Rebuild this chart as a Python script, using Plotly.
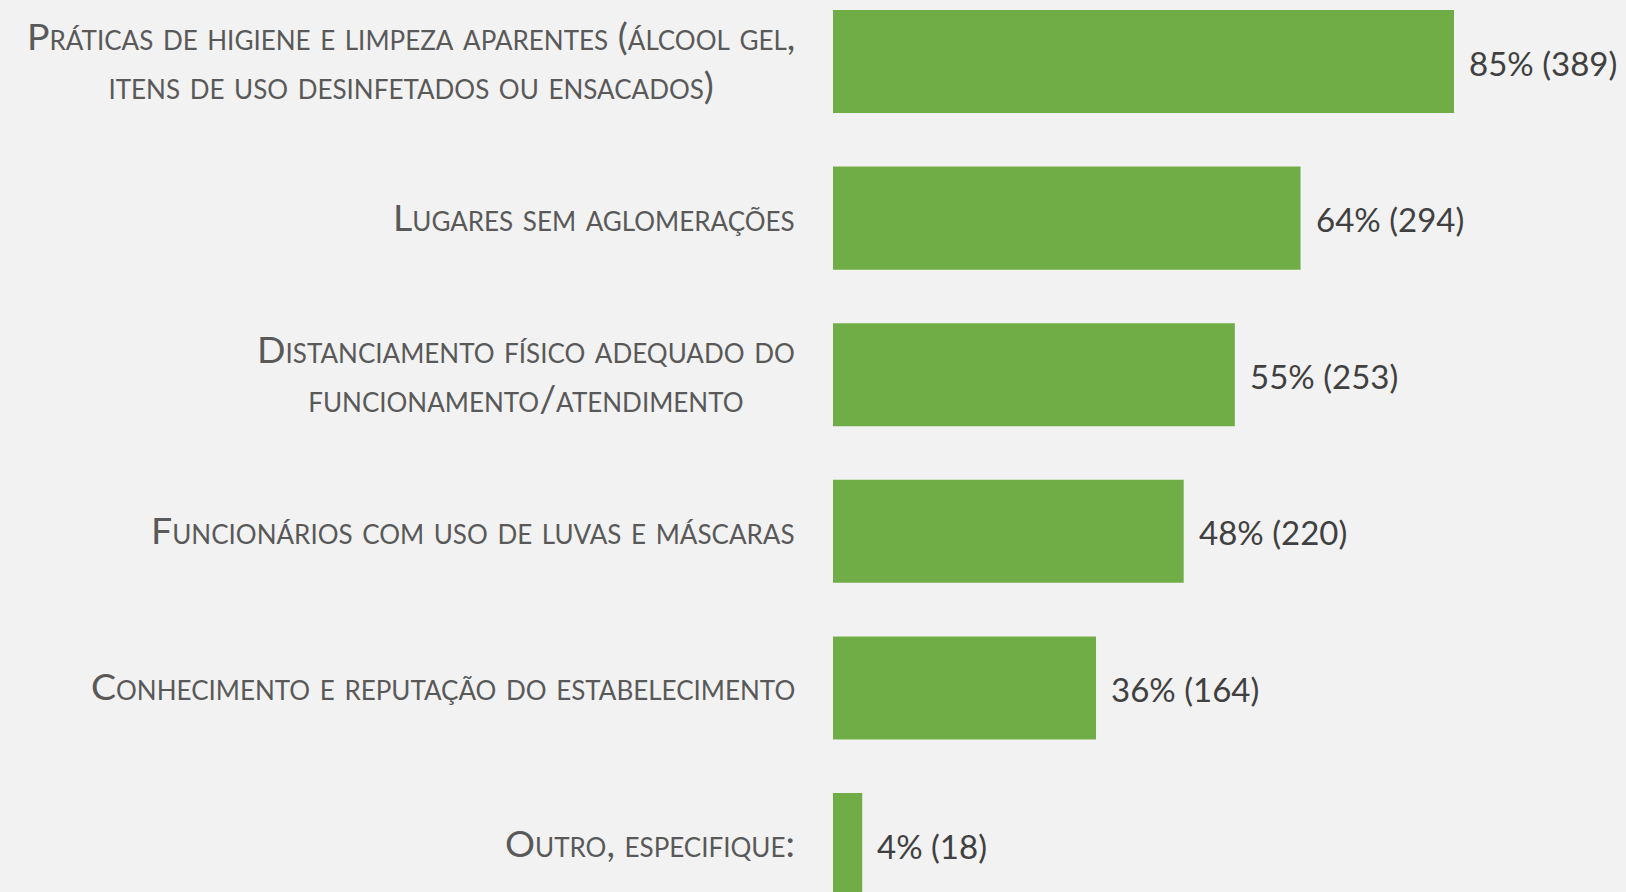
import plotly.graph_objects as go

categories = [
    "Práticas de higiene e limpeza aparentes (álcool gel,<br>itens de uso desinfetados ou ensacados)",
    "Lugares sem aglomerações",
    "Distanciamento físico adequado do<br>funcionamento/atendimento",
    "Funcionários com uso de luvas e máscaras",
    "Conhecimento e reputação do estabelecimento",
    "Outro, especifique:",
]
percents = [85, 64, 55, 48, 36, 4]
counts = [389, 294, 253, 220, 164, 18]

BAR = "#70ad47"
BG = "#f2f2f2"
FONT = "Lato"

fig = go.Figure()
fig.add_trace(go.Bar(
    y=list(range(len(categories))),
    x=percents,
    orientation="h",
    marker=dict(color=BAR, line=dict(width=0)),
    hoverinfo="skip",
))

annotations = []
for i, (cat, p, c) in enumerate(zip(categories, percents, counts)):
    annotations.append(dict(
        x=0, xref="paper", y=i, yref="y",
        text=cat, showarrow=False, xanchor="right", yanchor="middle",
        align="center", xshift=-36, yshift=2,
        font=dict(family=FONT, size=37.5, color="#595959", variant="small-caps"),
    ))
    annotations.append(dict(
        x=p, xref="x", y=i, yref="y",
        text=f"{p}% ({c})", showarrow=False, xanchor="left", yanchor="middle",
        xshift=13, yshift=-1,
        font=dict(family=FONT, size=33, color="#404040"),
    ))

fig.update_layout(
    width=1626, height=892,
    paper_bgcolor=BG, plot_bgcolor=BG,
    margin=dict(l=833, r=0, t=0, b=0),
    bargap=0.342,
    showlegend=False,
    xaxis=dict(range=[0, 793 / 7.306], visible=False, fixedrange=True),
    yaxis=dict(range=[5.303, -0.393], visible=False, fixedrange=True),
    annotations=annotations,
)

fig.write_html(
    "out.html",
    config={"displayModeBar": False},
    post_script="document.body.style.margin='0';document.body.style.background='#f2f2f2';",
)
